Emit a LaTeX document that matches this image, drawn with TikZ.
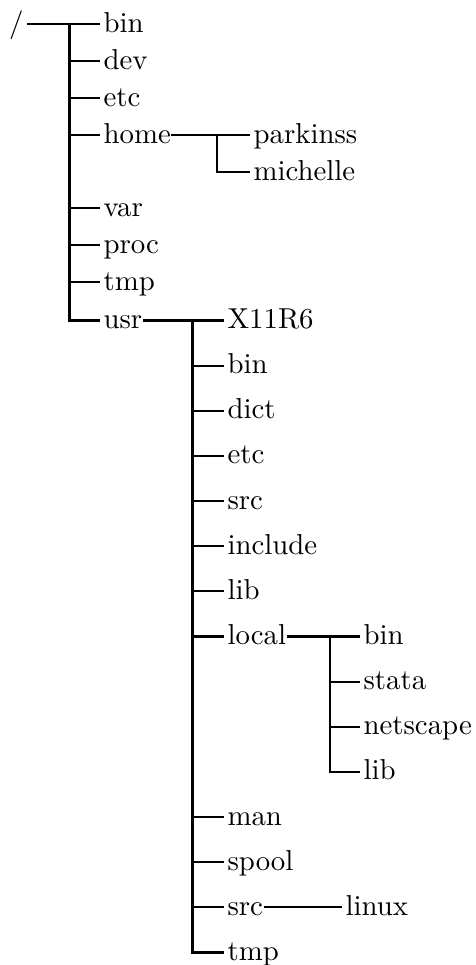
\documentclass[tikz,border=0pt]{standalone}
\begin{document}
\begin{tikzpicture}[x=0.347pt,y=-0.347pt,
  lbl/.style={inner sep=0pt, anchor=west, text height=5.6pt, text depth=0pt, font=\normalsize},
  conn/.style={line width=0.75pt}]
\useasboundingbox (0,0) rectangle (475,965);
% root
\node[lbl] (root) at (8.5,24) {/};
% level 1
\node[lbl] (bin) at (103,24) {bin};
\node[lbl] (dev) at (103,61) {dev};
\node[lbl] (etc) at (103,98) {etc};
\node[lbl] (home) at (103,135) {home};
\node[lbl] (var) at (103,208) {var};
\node[lbl] (proc) at (103,245) {proc};
\node[lbl] (tmp) at (103,282) {tmp};
\node[lbl] (usr) at (103,320.5) {usr};
% home
\node[lbl] (parkinss) at (253,135) {parkinss};
\node[lbl] (michelle) at (253,172) {michelle};
% usr
\node[lbl] (x11) at (227,320.5) {X11R6};
\node[lbl] (ubin) at (227,365.6) {bin};
\node[lbl] (udict) at (227,410.8) {dict};
\node[lbl] (uetc) at (227,455.9) {etc};
\node[lbl] (usrc1) at (227,501.1) {src};
\node[lbl] (uinc) at (227,546.2) {include};
\node[lbl] (ulib) at (227,591.3) {lib};
\node[lbl] (ulocal) at (227,636.5) {local};
\node[lbl] (uman) at (227,817.0) {man};
\node[lbl] (uspool) at (227,862.2) {spool};
\node[lbl] (usrc) at (227,907.3) {src};
\node[lbl] (utmp) at (227,952.5) {tmp};
% local
\node[lbl] (lbin) at (363,636.5) {bin};
\node[lbl] (lstata) at (363,681.6) {stata};
\node[lbl] (lnet) at (363,726.8) {netscape};
\node[lbl] (llib) at (363,771.9) {lib};
% src
\node[lbl] (linux) at (345,907.3) {linux};

% connectors: root
\draw[conn] ([xshift=1pt]root.east) -- ([xshift=-1pt]bin.west);
\coordinate (j0) at (69.5,24);
\foreach \n in {dev,etc,home,var,proc,tmp,usr}
  \draw[conn] (j0) |- ([xshift=-1pt]\n.west);
% home
\draw[conn] (home.east) -- ([xshift=-1pt]parkinss.west);
\coordinate (j1) at (217,135);
\draw[conn] (j1) |- ([xshift=-1pt]michelle.west);
% usr
\draw[conn] (usr.east) -- ([xshift=-1pt]x11.west);
\coordinate (j2) at (192.5,320.5);
\foreach \n in {ubin,udict,uetc,usrc1,uinc,ulib,ulocal,uman,uspool,usrc,utmp}
  \draw[conn] (j2) |- ([xshift=-1pt]\n.west);
% local
\draw[conn] (ulocal.east) -- ([xshift=-1pt]lbin.west);
\coordinate (j3) at (330,636.5);
\foreach \n in {lstata,lnet,llib}
  \draw[conn] (j3) |- ([xshift=-1pt]\n.west);
% src
\draw[conn] (usrc.east) -- ([xshift=-1pt]linux.west);
\end{tikzpicture}
\end{document}
